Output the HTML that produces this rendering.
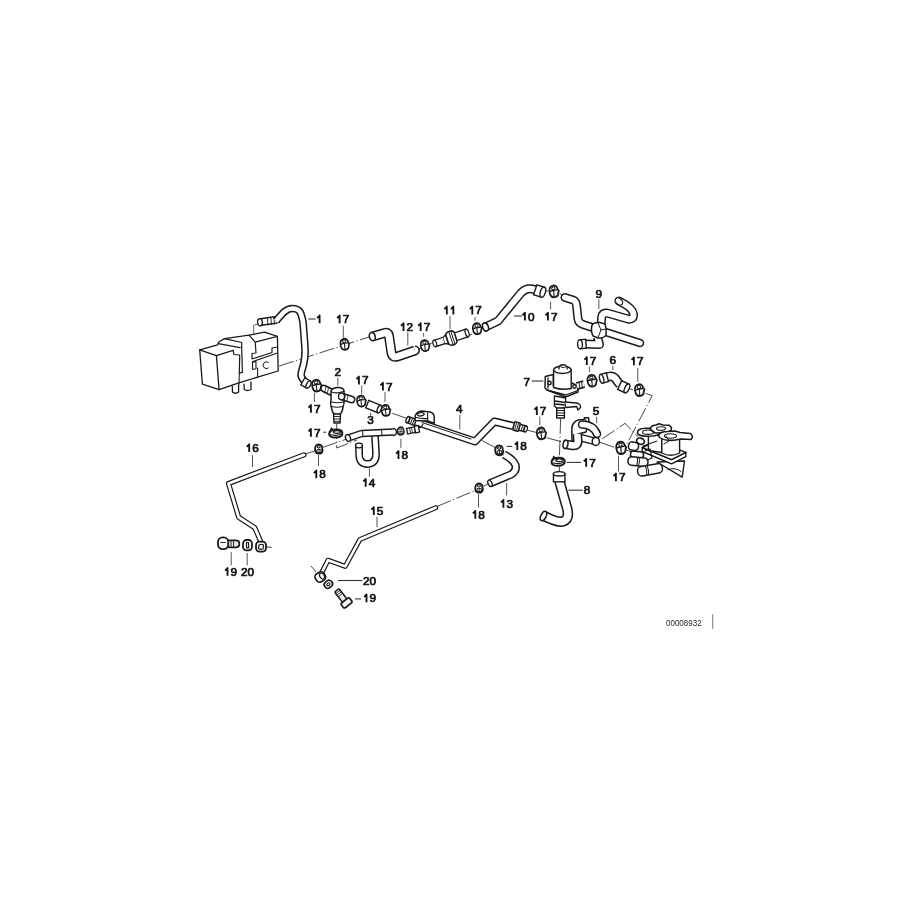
<!DOCTYPE html>
<html><head><meta charset="utf-8"><style>
html,body{margin:0;padding:0;background:#fff;}
svg{display:block;will-change:transform;}
text{font-family:"Liberation Sans",sans-serif;fill:#111;opacity:0.99;}
</style></head><body>
<svg width="900" height="900" viewBox="0 0 900 900">
<rect width="900" height="900" fill="#fff"/>
<path d="M279.3,366 L370,336.7" fill="none" stroke="#333" stroke-width="0.9" stroke-dasharray="15 2.5 1.2 2.5"/>
<path d="M416,350 L421,348" fill="none" stroke="#333" stroke-width="0.9" stroke-dasharray="15 2.5 1.2 2.5"/>
<path d="M429.4,344 L433,342.5" fill="none" stroke="#333" stroke-width="0.9" stroke-dasharray="15 2.5 1.2 2.5"/>
<path d="M468,336 L472,334" fill="none" stroke="#333" stroke-width="0.9" stroke-dasharray="15 2.5 1.2 2.5"/>
<path d="M481,329 L485,327" fill="none" stroke="#333" stroke-width="0.9" stroke-dasharray="15 2.5 1.2 2.5"/>
<path d="M545,291 L548,291" fill="none" stroke="#333" stroke-width="0.9" stroke-dasharray="15 2.5 1.2 2.5"/>
<path d="M559.4,293 L563,296.5" fill="none" stroke="#333" stroke-width="0.9" stroke-dasharray="15 2.5 1.2 2.5"/>
<path d="M392.2,413.3 L406.7,418.3" fill="none" stroke="#333" stroke-width="0.9" stroke-dasharray="15 2.5 1.2 2.5"/>
<path d="M336.7,424 L336.7,448 L357,440" fill="none" stroke="#333" stroke-width="0.9" stroke-dasharray="15 2.5 1.2 2.5"/>
<path d="M305.5,454 L314.5,451" fill="none" stroke="#333" stroke-width="0.9" stroke-dasharray="15 2.5 1.2 2.5"/>
<path d="M322.5,447.5 L346.7,439" fill="none" stroke="#333" stroke-width="0.9" stroke-dasharray="15 2.5 1.2 2.5"/>
<path d="M436.9,506.5 L474.8,490.6" fill="none" stroke="#333" stroke-width="0.9" stroke-dasharray="15 2.5 1.2 2.5"/>
<path d="M482,487 L488,484" fill="none" stroke="#333" stroke-width="0.9" stroke-dasharray="15 2.5 1.2 2.5"/>
<path d="M482,440.6 L495.6,447.8" fill="none" stroke="#333" stroke-width="0.9" stroke-dasharray="15 2.5 1.2 2.5"/>
<path d="M526.7,430 L537.8,432.8" fill="none" stroke="#333" stroke-width="0.9" stroke-dasharray="15 2.5 1.2 2.5"/>
<path d="M546.7,437.8 L563.3,442.2" fill="none" stroke="#333" stroke-width="0.9" stroke-dasharray="15 2.5 1.2 2.5"/>
<path d="M600,442.2 L615.6,447.8" fill="none" stroke="#333" stroke-width="0.9" stroke-dasharray="15 2.5 1.2 2.5"/>
<path d="M626,450 L632,452" fill="none" stroke="#333" stroke-width="0.9" stroke-dasharray="15 2.5 1.2 2.5"/>
<path d="M560.6,419 L559.4,457.8" fill="none" stroke="#333" stroke-width="0.9" stroke-dasharray="15 2.5 1.2 2.5"/>
<path d="M559.4,466.7 L559.4,473.3" fill="none" stroke="#333" stroke-width="0.9" stroke-dasharray="15 2.5 1.2 2.5"/>
<path d="M628.9,388.3 L633,390" fill="none" stroke="#333" stroke-width="0.9" stroke-dasharray="15 2.5 1.2 2.5"/>
<path d="M645.6,393.3 L652.2,395.6 L626.7,444.4" fill="none" stroke="#333" stroke-width="0.9" stroke-dasharray="15 2.5 1.2 2.5"/>
<path d="M602.2,438.9 L625,423.3 L638.9,437.8" fill="none" stroke="#333" stroke-width="0.9" stroke-dasharray="15 2.5 1.2 2.5"/>
<path d="M266,546.6 L271.8,547.5" fill="none" stroke="#333" stroke-width="0.9" stroke-dasharray="15 2.5 1.2 2.5"/>
<path d="M311,566 L316,572" fill="none" stroke="#333" stroke-width="0.9" stroke-dasharray="15 2.5 1.2 2.5"/>
<line x1="253.7" y1="334" x2="253.7" y2="325.2" stroke="#555" stroke-width="0.9"/>
<line x1="253.7" y1="325.2" x2="258" y2="323.9" stroke="#555" stroke-width="0.9"/>
<path d="M199.7,349.9 L217.6,344.8 L219,341.8 L224.6,338.6 L249,335.2 L264.6,332.1 L277.4,336.4 L278.2,371 L257.6,377.2 L237.3,383.4 L219.1,389.6 L202.4,384.1 Z" fill="#fff" stroke="#1a1a1a" stroke-width="1.3" stroke-linejoin="round"/>
<path d="M199.7,349.9 L216.4,355.7 L233.1,350.3 M216.4,355.7 L219.1,389.6" fill="none" stroke="#1a1a1a" stroke-width="1.3" stroke-linejoin="round" stroke-linecap="round"/>
<path d="M218.3,343.7 L240.1,347.6 M224.6,338.6 L241.7,342.5 L241.7,347.6 L242.4,372.4 L239.3,373.2 L239.7,355 L234,354.5 L233.1,350.3" fill="none" stroke="#1a1a1a" stroke-width="1.2" stroke-linejoin="round" stroke-linecap="round"/>
<path d="M249,335.2 L255.2,342.2 L277.4,336.4 M255.2,342.2 L256,353 L252,353.5 L252,359 L272,352.5 L272,348 L277.5,347 M252.5,361.7 L277.4,353" fill="none" stroke="#1a1a1a" stroke-width="1.2" stroke-linejoin="round" stroke-linecap="round"/>
<path d="M252.5,362.4 L256,361.5 L256,368.7 L252.5,369.5 Z M257.6,368 L257.6,377.2" fill="none" stroke="#1a1a1a" stroke-width="1.1" stroke-linejoin="round" stroke-linecap="round"/>
<path d="M268.3,362.3 A3.4,3.4 0 1 0 268.3,368.1" fill="none" stroke="#1a1a1a" stroke-width="1.0" stroke-linejoin="round" stroke-linecap="round"/>
<path d="M239.3,373.2 L239,384" fill="none" stroke="#1a1a1a" stroke-width="1.1" stroke-linejoin="round" stroke-linecap="round"/>
<path d="M232.3,386 L232.5,392 Q235.5,394.5 238.6,392 L238.6,384.5" fill="#fff" stroke="#1a1a1a" stroke-width="1.3" stroke-linejoin="round" stroke-linecap="round"/>
<path d="M244,384.2 L244.2,389.5 Q247.5,391.5 251,389.5 L251,382" fill="#fff" stroke="#1a1a1a" stroke-width="1.3" stroke-linejoin="round" stroke-linecap="round"/>
<path d="M259.5,322.3 L277,319.8" fill="none" stroke="#1a1a1a" stroke-width="8.0" stroke-linecap="butt" stroke-linejoin="round"/>
<path d="M259.5,322.3 L277,319.8" fill="none" stroke="#fff" stroke-width="5.0" stroke-linecap="butt" stroke-linejoin="round"/>
<ellipse cx="260" cy="322.3" rx="2.4" ry="3.6" transform="rotate(-8 260 322.3)" fill="#fff" stroke="#1a1a1a" stroke-width="1.3"/>
<path d="M267.5,318.8 L268,325 M271,318.5 L271.5,324.6 M274,318.2 L274.5,324.3" fill="none" stroke="#1a1a1a" stroke-width="0.9" stroke-linejoin="round" stroke-linecap="round"/>
<path d="M276,321 C282,314 286,308.5 292,308.5 C300,308.5 301,312 303,322 L304.8,345 C305.8,356 304.8,362 302,370 C300,376 301.5,378 304.5,381" fill="none" stroke="#1a1a1a" stroke-width="7.7" stroke-linecap="butt" stroke-linejoin="round"/>
<path d="M276,321 C282,314 286,308.5 292,308.5 C300,308.5 301,312 303,322 L304.8,345 C305.8,356 304.8,362 302,370 C300,376 301.5,378 304.5,381" fill="none" stroke="#fff" stroke-width="4.7" stroke-linecap="butt" stroke-linejoin="round"/>
<g transform="translate(306.3,383.3) rotate(30)"><rect x="-4" y="-4" width="6" height="8" fill="#fff" stroke="#1a1a1a" stroke-width="1.4"/><ellipse cx="2.5" cy="0" rx="2" ry="4" fill="#fff" stroke="#1a1a1a" stroke-width="1.4"/></g>
<g transform="translate(316.3,385.5) rotate(-10) scale(0.807,0.902)"><path d="M-5.2,0 C-5.2,-4.5 -2.5,-6.3 0.5,-6.3 C3.5,-6.3 5.2,-4.5 5.2,-2 L6.5,0.5 L5.2,2.5 C5,5.2 3,6.6 0,6.6 C-3,6.6 -5.2,4.5 -5.2,0 Z" fill="#fff" stroke="#1a1a1a" stroke-width="2.1" stroke-linejoin="round"/><ellipse cx="0.3" cy="-3.3" rx="2.1" ry="1.6" fill="#fff" stroke="#1a1a1a" stroke-width="1.1"/><path d="M-5,-0.6 Q0,-1.6 5,-0.8" fill="none" stroke="#1a1a1a" stroke-width="1.6"/><path d="M0.2,-0.8 L-0.4,5.5" fill="none" stroke="#1a1a1a" stroke-width="1.4"/></g>
<g transform="translate(344.4,344.2) rotate(-10) scale(0.765,0.855)"><path d="M-5.2,0 C-5.2,-4.5 -2.5,-6.3 0.5,-6.3 C3.5,-6.3 5.2,-4.5 5.2,-2 L6.5,0.5 L5.2,2.5 C5,5.2 3,6.6 0,6.6 C-3,6.6 -5.2,4.5 -5.2,0 Z" fill="#fff" stroke="#1a1a1a" stroke-width="2.1" stroke-linejoin="round"/><ellipse cx="0.3" cy="-3.3" rx="2.1" ry="1.6" fill="#fff" stroke="#1a1a1a" stroke-width="1.1"/><path d="M-5,-0.6 Q0,-1.6 5,-0.8" fill="none" stroke="#1a1a1a" stroke-width="1.6"/><path d="M0.2,-0.8 L-0.4,5.5" fill="none" stroke="#1a1a1a" stroke-width="1.4"/></g>
<g transform="translate(424.7,345.5) rotate(-10) scale(0.765,0.855)"><path d="M-5.2,0 C-5.2,-4.5 -2.5,-6.3 0.5,-6.3 C3.5,-6.3 5.2,-4.5 5.2,-2 L6.5,0.5 L5.2,2.5 C5,5.2 3,6.6 0,6.6 C-3,6.6 -5.2,4.5 -5.2,0 Z" fill="#fff" stroke="#1a1a1a" stroke-width="2.1" stroke-linejoin="round"/><ellipse cx="0.3" cy="-3.3" rx="2.1" ry="1.6" fill="#fff" stroke="#1a1a1a" stroke-width="1.1"/><path d="M-5,-0.6 Q0,-1.6 5,-0.8" fill="none" stroke="#1a1a1a" stroke-width="1.6"/><path d="M0.2,-0.8 L-0.4,5.5" fill="none" stroke="#1a1a1a" stroke-width="1.4"/></g>
<g transform="translate(476.8,328.6) rotate(-10) scale(0.765,0.855)"><path d="M-5.2,0 C-5.2,-4.5 -2.5,-6.3 0.5,-6.3 C3.5,-6.3 5.2,-4.5 5.2,-2 L6.5,0.5 L5.2,2.5 C5,5.2 3,6.6 0,6.6 C-3,6.6 -5.2,4.5 -5.2,0 Z" fill="#fff" stroke="#1a1a1a" stroke-width="2.1" stroke-linejoin="round"/><ellipse cx="0.3" cy="-3.3" rx="2.1" ry="1.6" fill="#fff" stroke="#1a1a1a" stroke-width="1.1"/><path d="M-5,-0.6 Q0,-1.6 5,-0.8" fill="none" stroke="#1a1a1a" stroke-width="1.6"/><path d="M0.2,-0.8 L-0.4,5.5" fill="none" stroke="#1a1a1a" stroke-width="1.4"/></g>
<g transform="translate(553.6,291.3) rotate(-10) scale(0.807,0.902)"><path d="M-5.2,0 C-5.2,-4.5 -2.5,-6.3 0.5,-6.3 C3.5,-6.3 5.2,-4.5 5.2,-2 L6.5,0.5 L5.2,2.5 C5,5.2 3,6.6 0,6.6 C-3,6.6 -5.2,4.5 -5.2,0 Z" fill="#fff" stroke="#1a1a1a" stroke-width="2.1" stroke-linejoin="round"/><ellipse cx="0.3" cy="-3.3" rx="2.1" ry="1.6" fill="#fff" stroke="#1a1a1a" stroke-width="1.1"/><path d="M-5,-0.6 Q0,-1.6 5,-0.8" fill="none" stroke="#1a1a1a" stroke-width="1.6"/><path d="M0.2,-0.8 L-0.4,5.5" fill="none" stroke="#1a1a1a" stroke-width="1.4"/></g>
<g transform="translate(361,401) rotate(-10) scale(0.765,0.855)"><path d="M-5.2,0 C-5.2,-4.5 -2.5,-6.3 0.5,-6.3 C3.5,-6.3 5.2,-4.5 5.2,-2 L6.5,0.5 L5.2,2.5 C5,5.2 3,6.6 0,6.6 C-3,6.6 -5.2,4.5 -5.2,0 Z" fill="#fff" stroke="#1a1a1a" stroke-width="2.1" stroke-linejoin="round"/><ellipse cx="0.3" cy="-3.3" rx="2.1" ry="1.6" fill="#fff" stroke="#1a1a1a" stroke-width="1.1"/><path d="M-5,-0.6 Q0,-1.6 5,-0.8" fill="none" stroke="#1a1a1a" stroke-width="1.6"/><path d="M0.2,-0.8 L-0.4,5.5" fill="none" stroke="#1a1a1a" stroke-width="1.4"/></g>
<g transform="translate(385.5,410.3) rotate(-10) scale(0.765,0.855)"><path d="M-5.2,0 C-5.2,-4.5 -2.5,-6.3 0.5,-6.3 C3.5,-6.3 5.2,-4.5 5.2,-2 L6.5,0.5 L5.2,2.5 C5,5.2 3,6.6 0,6.6 C-3,6.6 -5.2,4.5 -5.2,0 Z" fill="#fff" stroke="#1a1a1a" stroke-width="2.1" stroke-linejoin="round"/><ellipse cx="0.3" cy="-3.3" rx="2.1" ry="1.6" fill="#fff" stroke="#1a1a1a" stroke-width="1.1"/><path d="M-5,-0.6 Q0,-1.6 5,-0.8" fill="none" stroke="#1a1a1a" stroke-width="1.6"/><path d="M0.2,-0.8 L-0.4,5.5" fill="none" stroke="#1a1a1a" stroke-width="1.4"/></g>
<g transform="translate(639.2,390) rotate(-10) scale(0.807,0.902)"><path d="M-5.2,0 C-5.2,-4.5 -2.5,-6.3 0.5,-6.3 C3.5,-6.3 5.2,-4.5 5.2,-2 L6.5,0.5 L5.2,2.5 C5,5.2 3,6.6 0,6.6 C-3,6.6 -5.2,4.5 -5.2,0 Z" fill="#fff" stroke="#1a1a1a" stroke-width="2.1" stroke-linejoin="round"/><ellipse cx="0.3" cy="-3.3" rx="2.1" ry="1.6" fill="#fff" stroke="#1a1a1a" stroke-width="1.1"/><path d="M-5,-0.6 Q0,-1.6 5,-0.8" fill="none" stroke="#1a1a1a" stroke-width="1.6"/><path d="M0.2,-0.8 L-0.4,5.5" fill="none" stroke="#1a1a1a" stroke-width="1.4"/></g>
<g transform="translate(591.7,380.6) rotate(-10) scale(0.807,0.902)"><path d="M-5.2,0 C-5.2,-4.5 -2.5,-6.3 0.5,-6.3 C3.5,-6.3 5.2,-4.5 5.2,-2 L6.5,0.5 L5.2,2.5 C5,5.2 3,6.6 0,6.6 C-3,6.6 -5.2,4.5 -5.2,0 Z" fill="#fff" stroke="#1a1a1a" stroke-width="2.1" stroke-linejoin="round"/><ellipse cx="0.3" cy="-3.3" rx="2.1" ry="1.6" fill="#fff" stroke="#1a1a1a" stroke-width="1.1"/><path d="M-5,-0.6 Q0,-1.6 5,-0.8" fill="none" stroke="#1a1a1a" stroke-width="1.6"/><path d="M0.2,-0.8 L-0.4,5.5" fill="none" stroke="#1a1a1a" stroke-width="1.4"/></g>
<g transform="translate(541,433.3) rotate(-10) scale(0.807,0.902)"><path d="M-5.2,0 C-5.2,-4.5 -2.5,-6.3 0.5,-6.3 C3.5,-6.3 5.2,-4.5 5.2,-2 L6.5,0.5 L5.2,2.5 C5,5.2 3,6.6 0,6.6 C-3,6.6 -5.2,4.5 -5.2,0 Z" fill="#fff" stroke="#1a1a1a" stroke-width="2.1" stroke-linejoin="round"/><ellipse cx="0.3" cy="-3.3" rx="2.1" ry="1.6" fill="#fff" stroke="#1a1a1a" stroke-width="1.1"/><path d="M-5,-0.6 Q0,-1.6 5,-0.8" fill="none" stroke="#1a1a1a" stroke-width="1.6"/><path d="M0.2,-0.8 L-0.4,5.5" fill="none" stroke="#1a1a1a" stroke-width="1.4"/></g>
<g transform="translate(620.7,447.8) rotate(-10) scale(0.850,0.950)"><path d="M-5.2,0 C-5.2,-4.5 -2.5,-6.3 0.5,-6.3 C3.5,-6.3 5.2,-4.5 5.2,-2 L6.5,0.5 L5.2,2.5 C5,5.2 3,6.6 0,6.6 C-3,6.6 -5.2,4.5 -5.2,0 Z" fill="#fff" stroke="#1a1a1a" stroke-width="2.1" stroke-linejoin="round"/><ellipse cx="0.3" cy="-3.3" rx="2.1" ry="1.6" fill="#fff" stroke="#1a1a1a" stroke-width="1.1"/><path d="M-5,-0.6 Q0,-1.6 5,-0.8" fill="none" stroke="#1a1a1a" stroke-width="1.6"/><path d="M0.2,-0.8 L-0.4,5.5" fill="none" stroke="#1a1a1a" stroke-width="1.4"/></g>
<g transform="translate(499.2,450.3) scale(1.0)"><path d="M-3.9,0.8 C-4.2,-2.5 -2.8,-4.9 0,-4.9 C2.6,-4.9 3.8,-2.8 3.4,-0.8 C4.6,0.5 4.4,4.9 0.2,4.9 C-2.8,4.9 -3.9,3.2 -3.9,0.8 Z" fill="#fff" stroke="#1a1a1a" stroke-width="1.9"/><ellipse cx="-0.1" cy="-2.3" rx="1.5" ry="1.3" fill="none" stroke="#1a1a1a" stroke-width="1.1"/><ellipse cx="0.2" cy="2" rx="2.4" ry="1.8" fill="none" stroke="#1a1a1a" stroke-width="1.1"/><path d="M0.2,0.2 L0.2,3.8" fill="none" stroke="#1a1a1a" stroke-width="1"/></g>
<g transform="translate(400.8,431) scale(0.8)"><path d="M-3.9,0.8 C-4.2,-2.5 -2.8,-4.9 0,-4.9 C2.6,-4.9 3.8,-2.8 3.4,-0.8 C4.6,0.5 4.4,4.9 0.2,4.9 C-2.8,4.9 -3.9,3.2 -3.9,0.8 Z" fill="#fff" stroke="#1a1a1a" stroke-width="1.9"/><ellipse cx="-0.1" cy="-2.3" rx="1.5" ry="1.3" fill="none" stroke="#1a1a1a" stroke-width="1.1"/><ellipse cx="0.2" cy="2" rx="2.4" ry="1.8" fill="none" stroke="#1a1a1a" stroke-width="1.1"/><path d="M0.2,0.2 L0.2,3.8" fill="none" stroke="#1a1a1a" stroke-width="1"/></g>
<g transform="translate(318.8,449) scale(0.95)"><path d="M-3.9,0.8 C-4.2,-2.5 -2.8,-4.9 0,-4.9 C2.6,-4.9 3.8,-2.8 3.4,-0.8 C4.6,0.5 4.4,4.9 0.2,4.9 C-2.8,4.9 -3.9,3.2 -3.9,0.8 Z" fill="#fff" stroke="#1a1a1a" stroke-width="1.9"/><ellipse cx="-0.1" cy="-2.3" rx="1.5" ry="1.3" fill="none" stroke="#1a1a1a" stroke-width="1.1"/><ellipse cx="0.2" cy="2" rx="2.4" ry="1.8" fill="none" stroke="#1a1a1a" stroke-width="1.1"/><path d="M0.2,0.2 L0.2,3.8" fill="none" stroke="#1a1a1a" stroke-width="1"/></g>
<g transform="translate(479,488) scale(0.95)"><path d="M-3.9,0.8 C-4.2,-2.5 -2.8,-4.9 0,-4.9 C2.6,-4.9 3.8,-2.8 3.4,-0.8 C4.6,0.5 4.4,4.9 0.2,4.9 C-2.8,4.9 -3.9,3.2 -3.9,0.8 Z" fill="#fff" stroke="#1a1a1a" stroke-width="1.9"/><ellipse cx="-0.1" cy="-2.3" rx="1.5" ry="1.3" fill="none" stroke="#1a1a1a" stroke-width="1.1"/><ellipse cx="0.2" cy="2" rx="2.4" ry="1.8" fill="none" stroke="#1a1a1a" stroke-width="1.1"/><path d="M0.2,0.2 L0.2,3.8" fill="none" stroke="#1a1a1a" stroke-width="1"/></g>
<g transform="translate(335.6,433) scale(1)"><path d="M-6.5,1 C-6.5,-2.5 -3,-3.5 1,-3.5 C5,-3.5 6.8,-2 6.8,0.5 C6.8,3 4,4.5 0,4.5 C-4,4.5 -6.5,3.5 -6.5,1 Z" fill="#fff" stroke="#1a1a1a" stroke-width="1.9" stroke-linejoin="round"/><path d="M-5.5,-0.5 L-4.3,-4.5 L-2.5,-3.3" fill="none" stroke="#1a1a1a" stroke-width="1.5"/><ellipse cx="1.5" cy="-1" rx="3.8" ry="1.3" fill="none" stroke="#1a1a1a" stroke-width="1.2"/><path d="M-5.5,1.5 Q0,3.3 6.3,1" fill="none" stroke="#1a1a1a" stroke-width="1.2"/></g>
<g transform="translate(558,461.3) scale(1.0)"><path d="M-6.5,1 C-6.5,-2.5 -3,-3.5 1,-3.5 C5,-3.5 6.8,-2 6.8,0.5 C6.8,3 4,4.5 0,4.5 C-4,4.5 -6.5,3.5 -6.5,1 Z" fill="#fff" stroke="#1a1a1a" stroke-width="1.9" stroke-linejoin="round"/><path d="M-5.5,-0.5 L-4.3,-4.5 L-2.5,-3.3" fill="none" stroke="#1a1a1a" stroke-width="1.5"/><ellipse cx="1.5" cy="-1" rx="3.8" ry="1.3" fill="none" stroke="#1a1a1a" stroke-width="1.2"/><path d="M-5.5,1.5 Q0,3.3 6.3,1" fill="none" stroke="#1a1a1a" stroke-width="1.2"/></g>
<path d="M324,388.5 L332,392.5" fill="none" stroke="#1a1a1a" stroke-width="7.7" stroke-linecap="round" stroke-linejoin="round"/>
<path d="M324,388.5 L332,392.5" fill="none" stroke="#fff" stroke-width="4.7" stroke-linecap="round" stroke-linejoin="round"/>
<path d="M326,386.5 L325,391.5 M328.5,387.5 L327.5,393" fill="none" stroke="#1a1a1a" stroke-width="0.8" stroke-linejoin="round" stroke-linecap="round"/>
<path d="M331,393 Q330,388.5 337,387.5 Q343,387 344,390.5 L344,401 Q344.5,403 343,407 L342.5,410 Q341,414 339,414.5 L335.5,414.5 Q332.5,413.5 332,410 L331,406 Q330,403 331,401 Z" fill="#fff" stroke="#1a1a1a" stroke-width="1.5" stroke-linejoin="round"/>
<path d="M331.5,392 Q337,394 343.5,391.5 M331,402 Q337,403.5 344,402 M331.5,406.5 Q337,408 343,406.5" fill="none" stroke="#1a1a1a" stroke-width="1.1" stroke-linejoin="round" stroke-linecap="round"/>
<path d="M342,396.5 L351.5,399.5" fill="none" stroke="#1a1a1a" stroke-width="7.8" stroke-linecap="round" stroke-linejoin="round"/>
<path d="M342,396.5 L351.5,399.5" fill="none" stroke="#fff" stroke-width="4.8" stroke-linecap="round" stroke-linejoin="round"/>
<path d="M345.5,394 L344.5,399.5 M348,395 L347,400.5" fill="none" stroke="#1a1a1a" stroke-width="0.8" stroke-linejoin="round" stroke-linecap="round"/>
<ellipse cx="341.5" cy="396.5" rx="3" ry="3.3" transform="rotate(0 341.5 396.5)" fill="#fff" stroke="#1a1a1a" stroke-width="1.3"/>
<path d="M333.5,414 L340.5,414 L340,423 L334,423 Z" fill="#fff" stroke="#1a1a1a" stroke-width="1.4" stroke-linejoin="round"/>
<path d="M333.8,416.5 L340.3,416.5 M333.9,419 L340.2,419 M334,421.3 L340.1,421.3" fill="none" stroke="#1a1a1a" stroke-width="0.9" stroke-linejoin="round" stroke-linecap="round"/>
<g transform="translate(373.3,406.6) rotate(22)"><rect x="-6.5" y="-4.0" width="13" height="8" fill="#fff" stroke="#1a1a1a" stroke-width="1.4"/><ellipse cx="6.5" cy="0" rx="1.8" ry="4.0" fill="#fff" stroke="#1a1a1a" stroke-width="1.4"/></g>
<path d="M372.5,336.5 L384.5,333 Q388.5,332 389,336 L391.5,353 Q392.5,358 397.5,356.5 L415,350.5" fill="none" stroke="#1a1a1a" stroke-width="10.0" stroke-linecap="butt" stroke-linejoin="round"/>
<path d="M372.5,336.5 L384.5,333 Q388.5,332 389,336 L391.5,353 Q392.5,358 397.5,356.5 L415,350.5" fill="none" stroke="#fff" stroke-width="7.0" stroke-linecap="butt" stroke-linejoin="round"/>
<path d="M415,350.5 m0,-4.2 a4.2,4.2 0 0 1 0,8.4" fill="#fff" stroke="#1a1a1a" stroke-width="1.6"/>
<ellipse cx="372.3" cy="336.6" rx="2.9" ry="4.2" transform="rotate(-15 372.3 336.6)" fill="#fff" stroke="#1a1a1a" stroke-width="1.6"/>
<g transform="translate(450,338.5) rotate(-18)"><rect x="-16" y="-3.3" width="10" height="6.6" fill="#fff" stroke="#1a1a1a" stroke-width="1.3"/><ellipse cx="-16" cy="0" rx="1.8" ry="3.3" fill="#fff" stroke="#1a1a1a" stroke-width="1.2"/><path d="M-6,-3.3 L-3,-5 L-3,5 L-6,3.3" fill="#fff" stroke="#1a1a1a" stroke-width="1.3"/><rect x="-3" y="-7" width="9" height="14" rx="3.5" fill="#fff" stroke="#1a1a1a" stroke-width="1.6"/><path d="M1,-6.8 L1,6.8 M3,-6.8 L3,6.8" stroke="#1a1a1a" stroke-width="0.9"/><rect x="6" y="-4" width="12" height="8" fill="#fff" stroke="#1a1a1a" stroke-width="1.3"/><ellipse cx="18" cy="0" rx="1.8" ry="4" fill="#fff" stroke="#1a1a1a" stroke-width="1.2"/></g>
<path d="M485.5,327 L498,321 L521,293 Q525.5,288 532,289 L537,290" fill="none" stroke="#1a1a1a" stroke-width="9.0" stroke-linecap="butt" stroke-linejoin="round"/>
<path d="M485.5,327 L498,321 L521,293 Q525.5,288 532,289 L537,290" fill="none" stroke="#fff" stroke-width="6.0" stroke-linecap="butt" stroke-linejoin="round"/>
<ellipse cx="485.5" cy="327" rx="2.8" ry="4.2" transform="rotate(-20 485.5 327)" fill="#fff" stroke="#1a1a1a" stroke-width="1.5"/>
<g transform="translate(539,291) rotate(18)"><rect x="-4.0" y="-5.25" width="8" height="10.5" fill="#fff" stroke="#1a1a1a" stroke-width="1.4"/><ellipse cx="4.0" cy="0" rx="2.5" ry="5.25" fill="#fff" stroke="#1a1a1a" stroke-width="1.4"/></g>
<path d="M565,297.5 L573,300 Q576,301 576.5,305 L578,319 Q578.5,323 583,324.5 L594,328" fill="none" stroke="#1a1a1a" stroke-width="9.0" stroke-linecap="round" stroke-linejoin="round"/>
<path d="M565,297.5 L573,300 Q576,301 576.5,305 L578,319 Q578.5,323 583,324.5 L594,328" fill="none" stroke="#fff" stroke-width="6.0" stroke-linecap="round" stroke-linejoin="round"/>
<path d="M597.5,337 L599.5,344.5 L584,344" fill="none" stroke="#1a1a1a" stroke-width="9.0" stroke-linecap="butt" stroke-linejoin="round"/>
<path d="M597.5,337 L599.5,344.5 L584,344" fill="none" stroke="#fff" stroke-width="6.0" stroke-linecap="butt" stroke-linejoin="round"/>
<g transform="translate(583,344) rotate(-5)"><rect x="-3.0" y="-4.5" width="6" height="9" fill="#fff" stroke="#1a1a1a" stroke-width="1.4"/><ellipse cx="-3.0" cy="0" rx="2.4" ry="4.5" fill="#fff" stroke="#1a1a1a" stroke-width="1.4"/></g>
<path d="M601,327 L601.7,317 Q602.5,312.5 607,313 L628,319 Q634,320 633.5,314 Q633,308 619,301" fill="none" stroke="#1a1a1a" stroke-width="9.0" stroke-linecap="round" stroke-linejoin="round"/>
<path d="M601,327 L601.7,317 Q602.5,312.5 607,313 L628,319 Q634,320 633.5,314 Q633,308 619,301" fill="none" stroke="#fff" stroke-width="6.0" stroke-linecap="round" stroke-linejoin="round"/>
<ellipse cx="619" cy="301.5" rx="3" ry="4.2" transform="rotate(-50 619 301.5)" fill="#fff" stroke="#1a1a1a" stroke-width="1.2"/>
<path d="M604,331.5 L640,343" fill="none" stroke="#1a1a1a" stroke-width="8.5" stroke-linecap="round" stroke-linejoin="round"/>
<path d="M604,331.5 L640,343" fill="none" stroke="#fff" stroke-width="5.5" stroke-linecap="round" stroke-linejoin="round"/>
<path d="M592,325 Q594,322 600,322.5 L605,324 Q607,329 606,335 Q604,338.5 598,338 L593,336 Q590.5,331 592,325 Z" fill="#fff" stroke="#1a1a1a" stroke-width="1.5"/>
<path d="M598,323 L601,330 L598,337.5 M601,330 L606,329" fill="none" stroke="#1a1a1a" stroke-width="1.0" stroke-linejoin="round" stroke-linecap="round"/>
<path d="M606,377.5 Q612,375 615,378 Q618,382.5 620,384.5" fill="none" stroke="#1a1a1a" stroke-width="9.5" stroke-linecap="butt" stroke-linejoin="round"/>
<path d="M606,377.5 Q612,375 615,378 Q618,382.5 620,384.5" fill="none" stroke="#fff" stroke-width="6.5" stroke-linecap="butt" stroke-linejoin="round"/>
<g transform="translate(604.5,378) rotate(-15)"><rect x="-3.0" y="-4.5" width="6" height="9" fill="#fff" stroke="#1a1a1a" stroke-width="1.4"/><ellipse cx="-3.0" cy="0" rx="2" ry="4.5" fill="#fff" stroke="#1a1a1a" stroke-width="1.4"/></g>
<g transform="translate(623.3,386.7) rotate(25)"><rect x="-4.0" y="-4.75" width="8" height="9.5" fill="#fff" stroke="#1a1a1a" stroke-width="1.4"/><ellipse cx="4.0" cy="0" rx="2.2" ry="4.75" fill="#fff" stroke="#1a1a1a" stroke-width="1.4"/></g>
<path d="M545.3,376.5 L553.3,374.5 L553.3,386 L571.7,383 L577.5,385.5 L578,392 L565.6,397 L547,390 L545,388 Z" fill="#fff" stroke="#1a1a1a" stroke-width="1.5" stroke-linejoin="round"/>
<path d="M547,390 L565.6,395 L578,390.5 M548,378 L548,388" fill="none" stroke="#1a1a1a" stroke-width="1.3" stroke-linejoin="round" stroke-linecap="round"/>
<path d="M553.6,370 L553.6,387.5 Q562.5,390.5 571.2,388.5 L571.2,370 Z" fill="#fff" stroke="#1a1a1a" stroke-width="1.4"/>
<ellipse cx="562.4" cy="369.8" rx="8.8" ry="3.6" transform="rotate(0 562.4 369.8)" fill="#fff" stroke="#1a1a1a" stroke-width="1.5"/>
<path d="M559,369.5 Q558.5,364.5 563.3,364.6 Q567.5,364.8 567.3,369.5" fill="#fff" stroke="#1a1a1a" stroke-width="1.3"/>
<ellipse cx="563.2" cy="366.2" rx="3" ry="1.2" transform="rotate(0 563.2 366.2)" fill="#fff" stroke="#1a1a1a" stroke-width="1.0"/>
<ellipse cx="549.5" cy="383" rx="1.7" ry="1.7" transform="rotate(0 549.5 383)" fill="#fff" stroke="#1a1a1a" stroke-width="1.4"/>
<ellipse cx="574.5" cy="386.5" rx="1.7" ry="1.7" transform="rotate(0 574.5 386.5)" fill="#fff" stroke="#1a1a1a" stroke-width="1.4"/>
<path d="M577,386 L584,384" fill="none" stroke="#1a1a1a" stroke-width="7.8" stroke-linecap="butt" stroke-linejoin="round"/>
<path d="M577,386 L584,384" fill="none" stroke="#fff" stroke-width="4.8" stroke-linecap="butt" stroke-linejoin="round"/>
<path d="M579,382.5 L580,389 M581.5,382 L582.5,388.5" fill="none" stroke="#1a1a1a" stroke-width="1.0" stroke-linejoin="round" stroke-linecap="round"/>
<path d="M554.4,396 L565.6,398 L565.6,407 L562,408.5 L557,408.5 L554.4,406 Z" fill="#fff" stroke="#1a1a1a" stroke-width="1.3" stroke-linejoin="round"/>
<path d="M554.6,401 L565.5,402.5 M554.6,404 L565.5,405" fill="none" stroke="#1a1a1a" stroke-width="1.3" stroke-linejoin="round" stroke-linecap="round"/>
<path d="M565.6,402 L576,403 Q581,403.5 580.5,407.5 L578,410 L576.5,406.5 L566,407.5" fill="#fff" stroke="#1a1a1a" stroke-width="1.4" stroke-linejoin="round" stroke-linecap="round"/>
<path d="M556.7,408 L564.4,408 L564.4,418 L556.7,418 Z" fill="#fff" stroke="#1a1a1a" stroke-width="1.4" stroke-linejoin="round"/>
<path d="M556.8,410.5 L564.3,410.5 M556.8,413 L564.3,413 M556.8,415.5 L564.3,415.5" fill="none" stroke="#1a1a1a" stroke-width="1.0" stroke-linejoin="round" stroke-linecap="round"/>
<path d="M577,442 L572,441 L571.8,428 Q572.5,421.5 579,419.7 L584,419.5 L584.5,417.8 L588.5,417.8 L589,422 L586,432 L578,434 Z" fill="#fff" stroke="#1a1a1a" stroke-width="1.5" stroke-linejoin="round"/>
<path d="M582,424.5 Q593,424.5 597,434" fill="none" stroke="#1a1a1a" stroke-width="8.5" stroke-linecap="round" stroke-linejoin="round"/>
<path d="M582,424.5 Q593,424.5 597,434" fill="none" stroke="#fff" stroke-width="5.5" stroke-linecap="round" stroke-linejoin="round"/>
<path d="M578,437 L595.5,441.5" fill="none" stroke="#1a1a1a" stroke-width="8.0" stroke-linecap="butt" stroke-linejoin="round"/>
<path d="M578,437 L595.5,441.5" fill="none" stroke="#fff" stroke-width="5.0" stroke-linecap="butt" stroke-linejoin="round"/>
<ellipse cx="595.8" cy="441.4" rx="3.6" ry="4" transform="rotate(0 595.8 441.4)" fill="#fff" stroke="#1a1a1a" stroke-width="1.5"/>
<path d="M584.5,418 L586,421" fill="none" stroke="#1a1a1a" stroke-width="1.0" stroke-linejoin="round" stroke-linecap="round"/>
<path d="M566,444.5 L573,445.5 Q578,446 577.8,441 L577.3,434" fill="none" stroke="#1a1a1a" stroke-width="9.5" stroke-linecap="butt" stroke-linejoin="round"/>
<path d="M566,444.5 L573,445.5 Q578,446 577.8,441 L577.3,434" fill="none" stroke="#fff" stroke-width="6.5" stroke-linecap="butt" stroke-linejoin="round"/>
<ellipse cx="565.5" cy="444.3" rx="2.4" ry="4.2" transform="rotate(10 565.5 444.3)" fill="#fff" stroke="#1a1a1a" stroke-width="1.5"/>
<path d="M415,421.5 L475,441.5 L494.4,421.5 L513,426" fill="none" stroke="#1a1a1a" stroke-width="8.1" stroke-linecap="butt" stroke-linejoin="round"/>
<path d="M415,421.5 L475,441.5 L494.4,421.5 L513,426" fill="none" stroke="#fff" stroke-width="5.1" stroke-linecap="butt" stroke-linejoin="round"/>
<path d="M422,422.5 L471,439" fill="none" stroke="#1a1a1a" stroke-width="1.0" stroke-linejoin="round" stroke-linecap="round"/>
<g transform="translate(411.5,421) rotate(20)"><rect x="-4.0" y="-3.25" width="8" height="6.5" fill="#fff" stroke="#1a1a1a" stroke-width="1.4"/><path d="M-2,-3.25 L-2,3.25" stroke="#1a1a1a" stroke-width="0.9"/><path d="M0,-3.25 L0,3.25" stroke="#1a1a1a" stroke-width="0.9"/><path d="M2,-3.25 L2,3.25" stroke="#1a1a1a" stroke-width="0.9"/><ellipse cx="-4.0" cy="0" rx="1.5" ry="3.25" fill="#fff" stroke="#1a1a1a" stroke-width="1.4"/></g>
<path d="M415,420.5 L415.3,415.5 Q417,411.5 421.5,411 L430,412 Q434,413 434.2,417 L434.3,423.3 L427.5,421 Z" fill="#fff" stroke="#1a1a1a" stroke-width="1.5" stroke-linejoin="round"/>
<ellipse cx="420.8" cy="414.3" rx="3.4" ry="1.6" transform="rotate(-8 420.8 414.3)" fill="#fff" stroke="#1a1a1a" stroke-width="1.3"/>
<path d="M427.5,413 L427.8,421.5 M416,417.5 Q422,419 427.5,418.5" fill="none" stroke="#1a1a1a" stroke-width="1.1" stroke-linejoin="round" stroke-linecap="round"/>
<g transform="translate(519.5,427.3) rotate(15)"><rect x="-6" y="-4.3" width="6" height="8.6" rx="1" fill="#fff" stroke="#1a1a1a" stroke-width="1.5"/><path d="M-4,-4.3 L-4,4.3 M-2,-4.3 L-2,4.3" stroke="#1a1a1a" stroke-width="0.9"/><rect x="0" y="-3" width="6.5" height="6" fill="#fff" stroke="#1a1a1a" stroke-width="1.3"/><path d="M2.5,-3 L2.5,3 M4.5,-3 L4.5,3" stroke="#1a1a1a" stroke-width="0.9"/><ellipse cx="6.5" cy="0" rx="1.5" ry="3" fill="#fff" stroke="#1a1a1a" stroke-width="1.2"/></g>
<path d="M375,436 L376,453 Q376.5,463 368.5,464 Q360,464.5 359.2,456 L359,446" fill="none" stroke="#1a1a1a" stroke-width="7.8" stroke-linecap="butt" stroke-linejoin="round"/>
<path d="M375,436 L376,453 Q376.5,463 368.5,464 Q360,464.5 359.2,456 L359,446" fill="none" stroke="#fff" stroke-width="4.8" stroke-linecap="butt" stroke-linejoin="round"/>
<path d="M348.3,438 L361.7,433.5 L393,432" fill="none" stroke="#1a1a1a" stroke-width="7.5" stroke-linecap="butt" stroke-linejoin="round"/>
<path d="M348.3,438 L361.7,433.5 L393,432" fill="none" stroke="#fff" stroke-width="4.5" stroke-linecap="butt" stroke-linejoin="round"/>
<ellipse cx="348" cy="438" rx="2.4" ry="3.5" transform="rotate(-20 348 438)" fill="#fff" stroke="#1a1a1a" stroke-width="1.4"/>
<ellipse cx="359" cy="445.5" rx="3.5" ry="2.3" transform="rotate(0 359 445.5)" fill="#fff" stroke="#1a1a1a" stroke-width="1.3"/>
<path d="M362.5,430.5 L363,436.3 M381.5,429.2 L382,435" fill="none" stroke="#1a1a1a" stroke-width="1.0" stroke-linejoin="round" stroke-linecap="round"/>
<path d="M393,428.5 a3.5,3.5 0 0 1 0,7" fill="#fff" stroke="#1a1a1a" stroke-width="1.5"/>
<g transform="translate(413,430) rotate(-12)"><rect x="-6" y="-2.8" width="8" height="5.6" fill="#fff" stroke="#1a1a1a" stroke-width="1.3"/><rect x="2" y="-3.4" width="4" height="6.8" fill="#fff" stroke="#1a1a1a" stroke-width="1.3"/><path d="M-3,-2.8 L-3,2.8 M-1,-2.8 L-1,2.8" stroke="#1a1a1a" stroke-width="0.8"/></g>
<path d="M419,428 Q422,427 423,424" fill="none" stroke="#1a1a1a" stroke-width="1.1" stroke-linejoin="round" stroke-linecap="round"/>
<path d="M503.9,454.5 Q513,459 515.5,465 Q517,471 511,474.5 L490,483.3" fill="none" stroke="#1a1a1a" stroke-width="8.3" stroke-linecap="butt" stroke-linejoin="round"/>
<path d="M503.9,454.5 Q513,459 515.5,465 Q517,471 511,474.5 L490,483.3" fill="none" stroke="#fff" stroke-width="5.3" stroke-linecap="butt" stroke-linejoin="round"/>
<ellipse cx="490" cy="483.3" rx="1.9" ry="3.4" transform="rotate(-25 490 483.3)" fill="#fff" stroke="#1a1a1a" stroke-width="1.3"/>
<path d="M559.4,481 L567,508 Q570,519 563,521.5 Q558,523 544,516" fill="none" stroke="#1a1a1a" stroke-width="10.5" stroke-linecap="butt" stroke-linejoin="round"/>
<path d="M559.4,481 L567,508 Q570,519 563,521.5 Q558,523 544,516" fill="none" stroke="#fff" stroke-width="7.5" stroke-linecap="butt" stroke-linejoin="round"/>
<g transform="translate(559.2,477.8) rotate(90)"><rect x="-4.0" y="-5.75" width="8" height="11.5" fill="#fff" stroke="#1a1a1a" stroke-width="1.4"/><ellipse cx="-4.0" cy="0" rx="2.2" ry="5.75" fill="#fff" stroke="#1a1a1a" stroke-width="1.4"/></g>
<ellipse cx="543.5" cy="516" rx="2.6" ry="5.0" transform="rotate(26 543.5 516)" fill="#fff" stroke="#1a1a1a" stroke-width="1.5"/>
<path d="M435.7,507.7 L359.9,539.5 L345.2,566.4 L328.1,560.2 L321,574" fill="none" stroke="#1a1a1a" stroke-width="5.0" stroke-linecap="round" stroke-linejoin="round"/>
<path d="M435.7,507.7 L359.9,539.5 L345.2,566.4 L328.1,560.2 L321,574" fill="none" stroke="#fff" stroke-width="2.5999999999999996" stroke-linecap="round" stroke-linejoin="round"/>
<g transform="translate(320.3,577) rotate(-30)"><rect x="-5" y="-4.5" width="10" height="9" rx="3.5" fill="#fff" stroke="#1a1a1a" stroke-width="1.7"/><ellipse cx="2" cy="0" rx="2.2" ry="3.2" fill="#fff" stroke="#1a1a1a" stroke-width="1.2"/></g>
<g transform="translate(328.4,584.3) rotate(-40)"><rect x="-4.2" y="-3.4" width="8.4" height="6.8" rx="3" fill="#fff" stroke="#1a1a1a" stroke-width="1.7"/><ellipse cx="0" cy="0" rx="1.8" ry="1.2" fill="#fff" stroke="#1a1a1a" stroke-width="1.1"/></g>
<g transform="translate(343.5,599) rotate(52)"><rect x="-11" y="-2.8" width="13" height="5.6" rx="1.5" fill="#eee" stroke="#1a1a1a" stroke-width="1.5"/><rect x="2" y="-5.3" width="6" height="10.6" rx="1.8" fill="#fff" stroke="#1a1a1a" stroke-width="1.7"/><path d="M-9,-2.5 L-9,2.5 M-7,-2.5 L-7,2.5 M-5,-2.5 L-5,2.5" stroke="#1a1a1a" stroke-width="0.8"/></g>
<path d="M303.9,454.9 L228.5,483.5 L238.7,517.3 L254.8,527.7 L260.5,541" fill="none" stroke="#1a1a1a" stroke-width="5.2" stroke-linecap="round" stroke-linejoin="round"/>
<path d="M303.9,454.9 L228.5,483.5 L238.7,517.3 L254.8,527.7 L260.5,541" fill="none" stroke="#fff" stroke-width="2.8" stroke-linecap="round" stroke-linejoin="round"/>
<rect x="256" y="541.6" width="10" height="10" rx="3.5" fill="#fff" stroke="#1a1a1a" stroke-width="1.8"/>
<path d="M259,545 Q261,543.5 263.5,545 L263,549 Q260.5,550 258.5,548.5 Z" fill="#fff" stroke="#1a1a1a" stroke-width="1.2"/>
<rect x="243" y="540" width="9" height="10.3" rx="3.5" fill="#fff" stroke="#1a1a1a" stroke-width="1.8"/>
<path d="M246.5,542.5 L248.5,542.5 L248.7,547.8 L246.5,547.8 Z" fill="#fff" stroke="#1a1a1a" stroke-width="1.2"/>
<rect x="226" y="540.3" width="13.3" height="7" rx="3" fill="#e6e6e6" stroke="#1a1a1a" stroke-width="1.7"/>
<rect x="218" y="537.4" width="10.2" height="11.8" rx="4.6" fill="#fff" stroke="#1a1a1a" stroke-width="1.8"/>
<path d="M220.8,542.5 L225.5,542.5 M231,541.5 L231,546.5 M233.5,541.5 L233.5,546.5" fill="none" stroke="#1a1a1a" stroke-width="0.9" stroke-linejoin="round" stroke-linecap="round"/>
<path d="M657,462 L682.2,477.2 L684.5,461 Z" fill="#fff" stroke="#1a1a1a" stroke-width="1.4" stroke-linejoin="round"/>
<path d="M668,469.5 Q676,467 681,471.5" fill="none" stroke="#1a1a1a" stroke-width="1" stroke-linejoin="round" stroke-linecap="round"/>
<path d="M642.2,447.5 L642.2,451.5 L671.6,463.8 L685.8,456.6 L685.8,452.3 L671.6,459.6 Z" fill="#fff" stroke="#1a1a1a" stroke-width="1.4" stroke-linejoin="round"/>
<path d="M642.2,447.5 L671.6,459.6 L685.8,452.3 L657,441 Z" fill="#fff" stroke="#1a1a1a" stroke-width="1.4" stroke-linejoin="round"/>
<path d="M648.4,435.4 L648.4,450.5 L661.8,452.5 L661.8,435.4 Z" fill="#fff" stroke="#1a1a1a" stroke-width="1.4" stroke-linejoin="round"/>
<path d="M661.8,439.9 L661.8,453 Q670.7,457.5 679.6,453 L679.6,439.9" fill="#fff" stroke="#1a1a1a" stroke-width="1.4"/>
<path d="M637.5,433 Q637,428.5 646,428.3 L656,428.3 Q660.5,429.5 659,434 Q656,436.5 646,436.3 Q638,436 637.5,433 Z" fill="#fff" stroke="#1a1a1a" stroke-width="1.6" stroke-linejoin="round" stroke-linecap="round"/>
<ellipse cx="648" cy="432.2" rx="5.5" ry="2.2" transform="rotate(0 648 432.2)" fill="#fff" stroke="#1a1a1a" stroke-width="1.1"/>
<path d="M650.5,429.5 Q650,425.5 656,425 L659,423.8 L663,425 L669,425.2 Q672.5,427 671,430.5 L667,432.5 L655,433 Z" fill="#fff" stroke="#1a1a1a" stroke-width="1.6" stroke-linejoin="round" stroke-linecap="round"/>
<ellipse cx="661" cy="428.6" rx="4.5" ry="1.8" transform="rotate(0 661 428.6)" fill="#fff" stroke="#1a1a1a" stroke-width="1.1"/>
<path d="M658.5,436 Q659,431.5 668,431.5 L675,431 L680,432.5 L690.5,433.5 Q694,436.5 691,439.5 L681,439 L674,440.3 Q661,441 658.5,436 Z" fill="#fff" stroke="#1a1a1a" stroke-width="1.6" stroke-linejoin="round" stroke-linecap="round"/>
<ellipse cx="670.5" cy="436" rx="6" ry="2.2" transform="rotate(0 670.5 436)" fill="#fff" stroke="#1a1a1a" stroke-width="1.1"/>
<path d="M666,436 L669,441 L664,444" fill="none" stroke="#1a1a1a" stroke-width="1.0" stroke-linejoin="round" stroke-linecap="round"/>
<line x1="643" y1="446" x2="657" y2="441" stroke="#1a1a1a" stroke-width="1.2"/>
<ellipse cx="640.5" cy="441.2" rx="4" ry="3" transform="rotate(20 640.5 441.2)" fill="#fff" stroke="#1a1a1a" stroke-width="1.7"/>
<g transform="translate(633.5,446.2) rotate(10)"><rect x="-5.0" y="-4.1" width="10" height="8.2" rx="3.5652173913043477" fill="#fff" stroke="#1a1a1a" stroke-width="1.5"/></g>
<g transform="translate(637,454.6) rotate(5)"><rect x="-6.5" y="-3.15" width="13" height="6.3" rx="2.739130434782609" fill="#fff" stroke="#1a1a1a" stroke-width="1.5"/></g>
<g transform="translate(638,461.6) rotate(5)"><rect x="-10.0" y="-4.25" width="20" height="8.5" rx="3.695652173913044" fill="#fff" stroke="#1a1a1a" stroke-width="1.5"/><path d="M-1,-4.25 Q0.19999999999999996,0 -1,4.25 M0.8,-4.25 Q2,0 0.8,4.25" fill="none" stroke="#1a1a1a" stroke-width="1"/></g>
<g transform="translate(650,469.8) rotate(-10)"><rect x="-12.5" y="-4.75" width="25" height="9.5" rx="4.130434782608696" fill="#fff" stroke="#1a1a1a" stroke-width="1.5"/><path d="M-4,-4.75 Q-2.8,0 -4,4.75 M-2.2,-4.75 Q-1,0 -2.2,4.75" fill="none" stroke="#1a1a1a" stroke-width="1"/></g>
<path d="M645,451 L650,449 L652,458 L647,460" fill="none" stroke="#1a1a1a" stroke-width="1.2" stroke-linejoin="round" stroke-linecap="round"/>
<path d="M317.10,317.90 L318.40,317.00 L319.60,315.50 L319.60,323.30" fill="none" stroke="#111" stroke-width="1.85" stroke-linejoin="round"/>
<path d="M337.10,317.90 L338.40,317.00 L339.60,315.50 L339.60,323.30" fill="none" stroke="#111" stroke-width="1.85" stroke-linejoin="round"/>
<text transform="translate(342.65,323.3) scale(1.08,1)" font-size="10.9" stroke="#111" stroke-width="0.7">7</text>
<path d="M401.00,325.70 L402.30,324.80 L403.50,323.30 L403.50,331.10" fill="none" stroke="#111" stroke-width="1.85" stroke-linejoin="round"/>
<text transform="translate(406.55,331.1) scale(1.08,1)" font-size="10.9" stroke="#111" stroke-width="0.7">2</text>
<path d="M418.20,325.70 L419.50,324.80 L420.70,323.30 L420.70,331.10" fill="none" stroke="#111" stroke-width="1.85" stroke-linejoin="round"/>
<text transform="translate(423.75,331.1) scale(1.08,1)" font-size="10.9" stroke="#111" stroke-width="0.7">7</text>
<path d="M444.30,309.00 L445.60,308.10 L446.80,306.60 L446.80,314.40" fill="none" stroke="#111" stroke-width="1.85" stroke-linejoin="round"/>
<path d="M450.85,309.00 L452.15,308.10 L453.35,306.60 L453.35,314.40" fill="none" stroke="#111" stroke-width="1.85" stroke-linejoin="round"/>
<path d="M469.80,309.00 L471.10,308.10 L472.30,306.60 L472.30,314.40" fill="none" stroke="#111" stroke-width="1.85" stroke-linejoin="round"/>
<text transform="translate(475.35,314.4) scale(1.08,1)" font-size="10.9" stroke="#111" stroke-width="0.7">7</text>
<path d="M522.40,315.20 L523.70,314.30 L524.90,312.80 L524.90,320.60" fill="none" stroke="#111" stroke-width="1.85" stroke-linejoin="round"/>
<text transform="translate(527.95,320.6) scale(1.08,1)" font-size="10.9" stroke="#111" stroke-width="0.7">0</text>
<path d="M545.40,315.20 L546.70,314.30 L547.90,312.80 L547.90,320.60" fill="none" stroke="#111" stroke-width="1.85" stroke-linejoin="round"/>
<text transform="translate(550.95,320.6) scale(1.08,1)" font-size="10.9" stroke="#111" stroke-width="0.7">7</text>
<text transform="translate(595.40,297.8) scale(1.08,1)" font-size="10.9" stroke="#111" stroke-width="0.7">9</text>
<text transform="translate(609.40,364.4) scale(1.08,1)" font-size="10.9" stroke="#111" stroke-width="0.7">6</text>
<path d="M631.40,359.80 L632.70,358.90 L633.90,357.40 L633.90,365.20" fill="none" stroke="#111" stroke-width="1.85" stroke-linejoin="round"/>
<text transform="translate(636.95,365.2) scale(1.08,1)" font-size="10.9" stroke="#111" stroke-width="0.7">7</text>
<text transform="translate(523.40,385.6) scale(1.08,1)" font-size="10.9" stroke="#111" stroke-width="0.7">7</text>
<path d="M584.30,359.60 L585.60,358.70 L586.80,357.20 L586.80,365.00" fill="none" stroke="#111" stroke-width="1.85" stroke-linejoin="round"/>
<text transform="translate(589.85,365) scale(1.08,1)" font-size="10.9" stroke="#111" stroke-width="0.7">7</text>
<text transform="translate(334.40,376) scale(1.08,1)" font-size="10.9" stroke="#111" stroke-width="0.7">2</text>
<path d="M356.40,379.00 L357.70,378.10 L358.90,376.60 L358.90,384.40" fill="none" stroke="#111" stroke-width="1.85" stroke-linejoin="round"/>
<text transform="translate(361.95,384.4) scale(1.08,1)" font-size="10.9" stroke="#111" stroke-width="0.7">7</text>
<path d="M380.40,385.20 L381.70,384.30 L382.90,382.80 L382.90,390.60" fill="none" stroke="#111" stroke-width="1.85" stroke-linejoin="round"/>
<text transform="translate(385.95,390.6) scale(1.08,1)" font-size="10.9" stroke="#111" stroke-width="0.7">7</text>
<path d="M308.40,407.40 L309.70,406.50 L310.90,405.00 L310.90,412.80" fill="none" stroke="#111" stroke-width="1.85" stroke-linejoin="round"/>
<text transform="translate(313.95,412.8) scale(1.08,1)" font-size="10.9" stroke="#111" stroke-width="0.7">7</text>
<text transform="translate(367.20,424.4) scale(1.08,1)" font-size="10.9" stroke="#111" stroke-width="0.7">3</text>
<text transform="translate(456.10,413.3) scale(1.08,1)" font-size="10.9" stroke="#111" stroke-width="0.7">4</text>
<path d="M534.30,409.60 L535.60,408.70 L536.80,407.20 L536.80,415.00" fill="none" stroke="#111" stroke-width="1.85" stroke-linejoin="round"/>
<text transform="translate(539.85,415) scale(1.08,1)" font-size="10.9" stroke="#111" stroke-width="0.7">7</text>
<text transform="translate(592.70,415) scale(1.08,1)" font-size="10.9" stroke="#111" stroke-width="0.7">5</text>
<path d="M308.40,431.30 L309.70,430.40 L310.90,428.90 L310.90,436.70" fill="none" stroke="#111" stroke-width="1.85" stroke-linejoin="round"/>
<text transform="translate(313.95,436.7) scale(1.08,1)" font-size="10.9" stroke="#111" stroke-width="0.7">7</text>
<path d="M396.00,453.50 L397.30,452.60 L398.50,451.10 L398.50,458.90" fill="none" stroke="#111" stroke-width="1.85" stroke-linejoin="round"/>
<text transform="translate(401.55,458.9) scale(1.08,1)" font-size="10.9" stroke="#111" stroke-width="0.7">8</text>
<path d="M514.80,444.60 L516.10,443.70 L517.30,442.20 L517.30,450.00" fill="none" stroke="#111" stroke-width="1.85" stroke-linejoin="round"/>
<text transform="translate(520.35,450) scale(1.08,1)" font-size="10.9" stroke="#111" stroke-width="0.7">8</text>
<path d="M583.70,461.30 L585.00,460.40 L586.20,458.90 L586.20,466.70" fill="none" stroke="#111" stroke-width="1.85" stroke-linejoin="round"/>
<text transform="translate(589.25,466.7) scale(1.08,1)" font-size="10.9" stroke="#111" stroke-width="0.7">7</text>
<path d="M613.40,475.90 L614.70,475.00 L615.90,473.50 L615.90,481.30" fill="none" stroke="#111" stroke-width="1.85" stroke-linejoin="round"/>
<text transform="translate(618.95,481.3) scale(1.08,1)" font-size="10.9" stroke="#111" stroke-width="0.7">7</text>
<text transform="translate(583.80,494.4) scale(1.08,1)" font-size="10.9" stroke="#111" stroke-width="0.7">8</text>
<path d="M246.70,446.70 L248.00,445.80 L249.20,444.30 L249.20,452.10" fill="none" stroke="#111" stroke-width="1.85" stroke-linejoin="round"/>
<text transform="translate(252.25,452.1) scale(1.08,1)" font-size="10.9" stroke="#111" stroke-width="0.7">6</text>
<path d="M313.80,472.90 L315.10,472.00 L316.30,470.50 L316.30,478.30" fill="none" stroke="#111" stroke-width="1.85" stroke-linejoin="round"/>
<text transform="translate(319.35,478.3) scale(1.08,1)" font-size="10.9" stroke="#111" stroke-width="0.7">8</text>
<path d="M363.20,481.30 L364.50,480.40 L365.70,478.90 L365.70,486.70" fill="none" stroke="#111" stroke-width="1.85" stroke-linejoin="round"/>
<text transform="translate(368.75,486.7) scale(1.08,1)" font-size="10.9" stroke="#111" stroke-width="0.7">4</text>
<path d="M500.90,502.30 L502.20,501.40 L503.40,499.90 L503.40,507.70" fill="none" stroke="#111" stroke-width="1.85" stroke-linejoin="round"/>
<text transform="translate(506.45,507.7) scale(1.08,1)" font-size="10.9" stroke="#111" stroke-width="0.7">3</text>
<path d="M472.80,513.30 L474.10,512.40 L475.30,510.90 L475.30,518.70" fill="none" stroke="#111" stroke-width="1.85" stroke-linejoin="round"/>
<text transform="translate(478.35,518.7) scale(1.08,1)" font-size="10.9" stroke="#111" stroke-width="0.7">8</text>
<path d="M371.30,509.60 L372.60,508.70 L373.80,507.20 L373.80,515.00" fill="none" stroke="#111" stroke-width="1.85" stroke-linejoin="round"/>
<text transform="translate(376.85,515) scale(1.08,1)" font-size="10.9" stroke="#111" stroke-width="0.7">5</text>
<path d="M225.00,570.40 L226.30,569.50 L227.50,568.00 L227.50,575.80" fill="none" stroke="#111" stroke-width="1.85" stroke-linejoin="round"/>
<text transform="translate(230.55,575.8) scale(1.08,1)" font-size="10.9" stroke="#111" stroke-width="0.7">9</text>
<text transform="translate(241.00,575.8) scale(1.08,1)" font-size="10.9" stroke="#111" stroke-width="0.7">2</text>
<text transform="translate(247.55,575.8) scale(1.08,1)" font-size="10.9" stroke="#111" stroke-width="0.7">0</text>
<text transform="translate(363.00,584.5) scale(1.08,1)" font-size="10.9" stroke="#111" stroke-width="0.7">2</text>
<text transform="translate(369.55,584.5) scale(1.08,1)" font-size="10.9" stroke="#111" stroke-width="0.7">0</text>
<path d="M364.00,596.80 L365.30,595.90 L366.50,594.40 L366.50,602.20" fill="none" stroke="#111" stroke-width="1.85" stroke-linejoin="round"/>
<text transform="translate(369.55,602.2) scale(1.08,1)" font-size="10.9" stroke="#111" stroke-width="0.7">9</text>
<line x1="343.3" y1="325.6" x2="343.3" y2="337.8" stroke="#555" stroke-width="1.0"/>
<line x1="407.8" y1="332.2" x2="407.8" y2="345.6" stroke="#555" stroke-width="1.0"/>
<line x1="423.6" y1="333" x2="423.6" y2="336.7" stroke="#555" stroke-width="1.0"/>
<line x1="450" y1="316" x2="450" y2="329" stroke="#555" stroke-width="1.0"/>
<line x1="475" y1="317" x2="475" y2="320.6" stroke="#555" stroke-width="1.0"/>
<line x1="550.6" y1="301.7" x2="550.6" y2="309.4" stroke="#555" stroke-width="1.0"/>
<line x1="598.9" y1="299.4" x2="598.9" y2="309" stroke="#555" stroke-width="1.0"/>
<line x1="612.8" y1="366" x2="612.8" y2="370" stroke="#555" stroke-width="1.0"/>
<line x1="637.8" y1="368" x2="637.8" y2="381.7" stroke="#555" stroke-width="1.0"/>
<line x1="589.4" y1="366.7" x2="589.4" y2="372" stroke="#555" stroke-width="1.0"/>
<line x1="337.8" y1="377.8" x2="337.8" y2="385.6" stroke="#555" stroke-width="1.0"/>
<line x1="361.7" y1="385.6" x2="361.7" y2="394" stroke="#555" stroke-width="1.0"/>
<line x1="385" y1="392" x2="385" y2="402" stroke="#555" stroke-width="1.0"/>
<line x1="314.4" y1="393" x2="314.4" y2="402" stroke="#555" stroke-width="1.0"/>
<line x1="370.6" y1="412.8" x2="370.6" y2="416" stroke="#555" stroke-width="1.0"/>
<line x1="459.8" y1="415" x2="459.8" y2="429.4" stroke="#555" stroke-width="1.0"/>
<line x1="539.8" y1="416.7" x2="539.8" y2="425" stroke="#555" stroke-width="1.0"/>
<line x1="596.7" y1="416.7" x2="596.7" y2="423.3" stroke="#555" stroke-width="1.0"/>
<line x1="400.9" y1="438.9" x2="400.9" y2="447.8" stroke="#555" stroke-width="1.0"/>
<line x1="618.5" y1="456" x2="618.5" y2="471.3" stroke="#555" stroke-width="1.0"/>
<line x1="252.5" y1="455" x2="252.5" y2="467.2" stroke="#555" stroke-width="1.0"/>
<line x1="318.5" y1="455" x2="318.5" y2="466" stroke="#555" stroke-width="1.0"/>
<line x1="369.4" y1="468.3" x2="369.4" y2="476.7" stroke="#555" stroke-width="1.0"/>
<line x1="506.6" y1="483" x2="506.6" y2="495.5" stroke="#555" stroke-width="1.0"/>
<line x1="478.5" y1="494" x2="478.5" y2="507.7" stroke="#555" stroke-width="1.0"/>
<line x1="377" y1="516.7" x2="377" y2="527.2" stroke="#555" stroke-width="1.0"/>
<line x1="231.2" y1="552.2" x2="231.2" y2="565.4" stroke="#555" stroke-width="1.0"/>
<line x1="247.2" y1="553" x2="247.2" y2="565.4" stroke="#555" stroke-width="1.0"/>
<line x1="308.3" y1="319" x2="315.6" y2="319" stroke="#333" stroke-width="1.1"/>
<line x1="513.9" y1="316" x2="521.7" y2="316" stroke="#333" stroke-width="1.1"/>
<line x1="531.7" y1="381" x2="543.3" y2="381" stroke="#333" stroke-width="1.1"/>
<line x1="323.3" y1="432.2" x2="326" y2="432.2" stroke="#333" stroke-width="1.1"/>
<line x1="506.7" y1="446.4" x2="512.2" y2="446.4" stroke="#333" stroke-width="1.1"/>
<line x1="566.7" y1="462.4" x2="581" y2="462.4" stroke="#333" stroke-width="1.1"/>
<line x1="568.3" y1="490.2" x2="582.8" y2="490.2" stroke="#333" stroke-width="1.1"/>
<line x1="337.9" y1="580.5" x2="362.3" y2="580.5" stroke="#333" stroke-width="1.1"/>
<line x1="355" y1="598.9" x2="361" y2="598.9" stroke="#333" stroke-width="1.1"/>
<text x="666" y="626.2" font-size="9.2" textLength="35.6" lengthAdjust="spacingAndGlyphs" style="fill:#222">00008932</text>
<line x1="712.7" y1="614.4" x2="712.7" y2="628.9" stroke="#777" stroke-width="1.0"/>
</svg></body></html>
